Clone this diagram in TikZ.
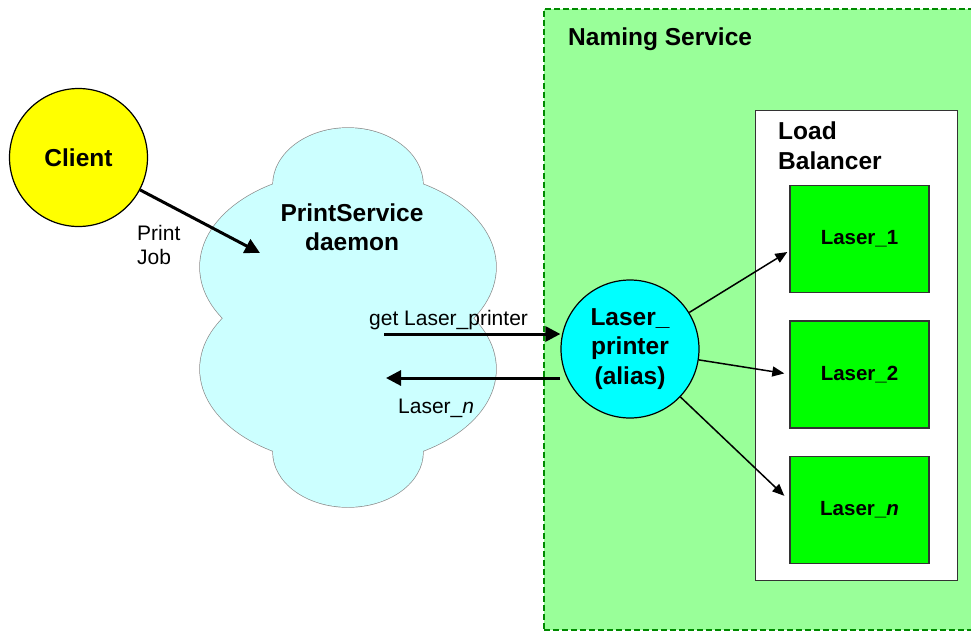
\documentclass[tikz,border=0pt]{standalone}
\usepackage{fontspec}
\setmainfont{Liberation Sans}
\usetikzlibrary{positioning,arrows.meta}
\definecolor{clientyellow}{HTML}{FFFF00}
\definecolor{aliascyan}{HTML}{00FFFF}
\definecolor{cloudcyan}{HTML}{CCFFFF}
\definecolor{namingfill}{HTML}{99FF99}
\definecolor{namingline}{HTML}{008A00}
\definecolor{laserfill}{HTML}{00FF00}
\newcommand{\bigfont}{\fontsize{24.5}{29.5}\selectfont\bfseries}
\newcommand{\smallfont}{\fontsize{21}{24}\selectfont}

\begin{document}
\begin{tikzpicture}[x=1pt, y=-1pt,
  round node/.style={circle, draw=black, line width=1.2pt, minimum size=138pt, inner sep=0pt, align=center, font=\bigfont},
  laser node/.style={draw=black!80, line width=1.4pt, fill=laserfill, minimum width=139pt, minimum height=107pt, font=\fontsize{20.5}{24}\selectfont\bfseries},
  title text/.style={inner sep=0pt, font=\bigfont},
  small text/.style={inner sep=0pt, font=\smallfont},
  big arrow/.style={line width=3pt, -{Triangle[length=15pt,width=15pt]}},
  thin arrow/.style={line width=1.5pt, -{Triangle[length=12pt,width=10pt]}},
  node distance=27pt]
  \useasboundingbox (0,0) rectangle (971,630);

  \node[draw=namingline, dash pattern=on 6pt off 3pt, line width=1.6pt, fill=namingfill, anchor=north west, minimum width=440pt, minimum height=621pt, inner sep=0pt] (naming) at (543,8) {};
  \node[title text, anchor=base west] (naminglabel) at (568,45) {Naming Service};

  \node[draw=black!80, line width=1.4pt, fill=white, anchor=north west, minimum width=202pt, minimum height=470pt, inner sep=0pt] (balancer) at (755,110) {};
  \node[title text, align=left, anchor=north west] (balancerlabel) at (778,122) {Load\\Balancer};

  \node[laser node] (laser1) at (859.5,239) {Laser\_1};
  \node[laser node, below=of laser1] (laser2) {Laser\_2};
  \node[laser node, below=of laser2] (lasern) {Laser\_\textit{n}};

  \foreach \cy/\rx/\ry in {185/75/57, 267/148/96, 369/148/95, 452/75/55}
    \draw[draw=black!45, line width=1.4pt, fill=cloudcyan] (348,\cy) ellipse [x radius=\rx, y radius=\ry];
  \foreach \cy/\rx/\ry in {185/75/57, 267/148/96, 369/148/95, 452/75/55}
    \fill[cloudcyan] (348,\cy) ellipse [x radius=\rx, y radius=\ry];
  \node[title text, align=center] (daemon) at (352,227) {PrintService\\daemon};

  \node[round node, fill=clientyellow] (client) at (78.5,157.5) {Client};
  \node[round node, fill=aliascyan] (alias) at (630,349) {Laser\_\\printer\\(alias)};

  \coordinate (jobend) at (260,253);
  \coordinate (getstart) at (384,334);
  \coordinate (retend) at (386,378);
  \draw[big arrow] (client) -- (jobend);
  \node[small text, align=left, anchor=north west] (joblabel) at (137,225) {Print\\Job};
  \draw[big arrow] (getstart) -- (getstart -| alias.west);
  \node[small text, anchor=base west] (getlabel) at (369,325) {get Laser\_printer};
  \draw[big arrow] (retend -| alias.west) -- (retend);
  \node[small text, anchor=base west] (retlabel) at (398,413) {Laser\_\textit{n}};

  \draw[thin arrow] (alias) -- ([shift={(-2,13)}]laser1.west);
  \draw[thin arrow] (alias) -- ([shift={(-5,-1)}]laser2.west);
  \draw[thin arrow] (alias) -- ([shift={(-5,-14)}]lasern.west);
\end{tikzpicture}
\end{document}
